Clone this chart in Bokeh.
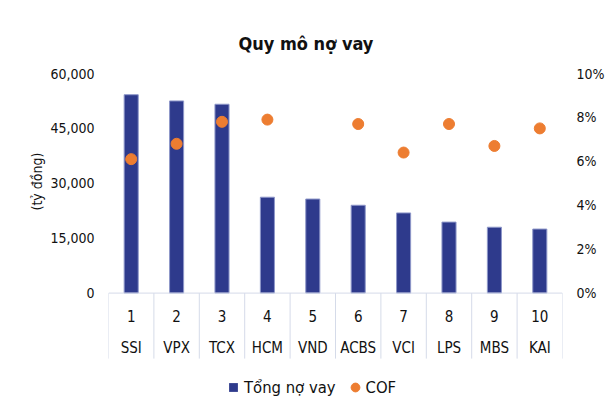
import math
from bokeh.plotting import figure
from bokeh.models import (ColumnDataSource, LinearAxis, Range1d, FixedTicker, Span, Title,
                          NumeralTickFormatter, PrintfTickFormatter, Legend, LegendItem)
from bokeh.core.properties import value
from bokeh.embed import file_html
from bokeh.resources import INLINE

ranks = ["1", "2", "3", "4", "5", "6", "7", "8", "9", "10"]
firms = ["SSI", "VPX", "TCX", "HCM", "VND", "ACBS", "VCI", "LPS", "MBS", "KAI"]
debt = [54200, 52500, 51600, 26200, 25700, 24000, 21900, 19400, 18000, 17500]
cof = [6.1, 6.8, 7.8, 7.9, math.nan, 7.7, 6.4, 7.7, 6.7, 7.5]  # %

FONT = "DejaVu Sans Condensed, DejaVu Sans"
GRID_C = "#d5dbe9"
TEXT_C = "#111111"
BAR_C = "#2e3a8c"
DOT_C = "#ed7d31"

W, H = 612, 405
TOP = 73
YMAX = 60000
PLOT_PX = 219.6              # pixels from 0 to 60,000
U = YMAX / PLOT_PX           # data units per pixel
YMIN = -(H - TOP - PLOT_PX) * U   # frame runs on below zero to hold the category rows

xs = list(range(1, len(firms) + 1))
src = ColumnDataSource(dict(x=xs, debt=debt, cof=cof))

p = figure(width=W, height=H, output_backend="svg", toolbar_location=None,
           x_range=Range1d(0.5, len(firms) + 0.5), y_range=Range1d(YMIN, YMAX),
           x_axis_location=None,
           min_border_left=108, min_border_right=50, min_border_top=TOP,
           min_border_bottom=0)
p.outline_line_color = None
p.xgrid.visible = False
p.ygrid.visible = False
p.background_fill_color = None
p.border_fill_color = "white"

p.title.text = "Quy mô nợ vay"
p.title.align = "left"
p.title.offset = 130
p.title.text_font = FONT
p.title.text_font_size = "18px"
p.title.text_font_style = "bold"
p.title.text_color = TEXT_C
p.title.standoff = 40

p.extra_y_ranges = {"cof": Range1d(YMIN / YMAX * 10, 10)}

bars = p.vbar(x="x", top="debt", width=0.31, source=src,
              fill_color=BAR_C, line_color="#8e97c9", line_width=1)
dots = p.scatter(x="x", y="cof", size=11, source=src, y_range_name="cof",
                 fill_color=DOT_C, line_color=DOT_C)
# zero-size square marker on the bar data: only used as the legend swatch
bar_key = p.scatter(x="x", y="debt", source=src, marker="square", size=0,
                    fill_color=BAR_C, line_color=None)

# left axis
ya = p.yaxis[0]
ya.ticker = FixedTicker(ticks=[0, 15000, 30000, 45000, 60000])
ya.formatter = NumeralTickFormatter(format="0,0")

# right axis
ra = LinearAxis(y_range_name="cof", ticker=FixedTicker(ticks=[0, 2, 4, 6, 8, 10]),
                formatter=PrintfTickFormatter(format="%d%%"))
p.add_layout(ra, "right")

for ax in (ya, ra):
    ax.axis_line_color = None
    ax.major_tick_line_color = None
    ax.minor_tick_line_color = None
    ax.major_tick_out = 0
    ax.minor_tick_out = 0
    ax.major_label_standoff = 14
    ax.major_label_text_font = FONT
    ax.major_label_text_font_size = "14px"
    ax.major_label_text_color = TEXT_C

# y-axis caption, placed beside the bar scale rather than the whole frame
p.add_layout(Title(text="(tỷ đồng)", align="left", offset=195, standoff=5,
                   text_font=FONT, text_font_size="14px", text_font_style="normal",
                   text_color=TEXT_C), "left")

# category table under the bars: ranks row, names row, box separators
bounds = [i + 0.5 for i in range(0, len(firms) + 1)]
p.add_layout(Span(location=0, dimension="width", line_color=GRID_C, line_width=1))
p.segment(x0=bounds, y0=[0] * len(bounds), x1=bounds, y1=[-65.5 * U] * len(bounds),
          line_color=GRID_C, line_width=1)
p.text(x=xs, y=[-23 * U] * len(xs), text=ranks, text_align="center",
       text_baseline="middle", text_font=value(FONT), text_font_size="15px",
       text_color=TEXT_C)
p.text(x=xs, y=[-55 * U] * len(xs), text=firms, text_align="center",
       text_baseline="middle", text_font=value(FONT), text_font_size="15px",
       text_color=TEXT_C)

legend = Legend(items=[LegendItem(label="Tổng nợ vay", renderers=[bar_key]),
                       LegendItem(label="COF", renderers=[dots])],
                orientation="horizontal", location=(114, 7))
legend.label_text_font = FONT
legend.label_text_font_size = "16.5px"
legend.label_text_color = TEXT_C
legend.glyph_width = 22
legend.glyph_height = 22
legend.label_standoff = -3
legend.spacing = 8
legend.border_line_color = None
legend.background_fill_color = None
legend.margin = 0
legend.padding = 4
p.add_layout(legend, "center")

open("out.html", "w").write(file_html(p, INLINE))
